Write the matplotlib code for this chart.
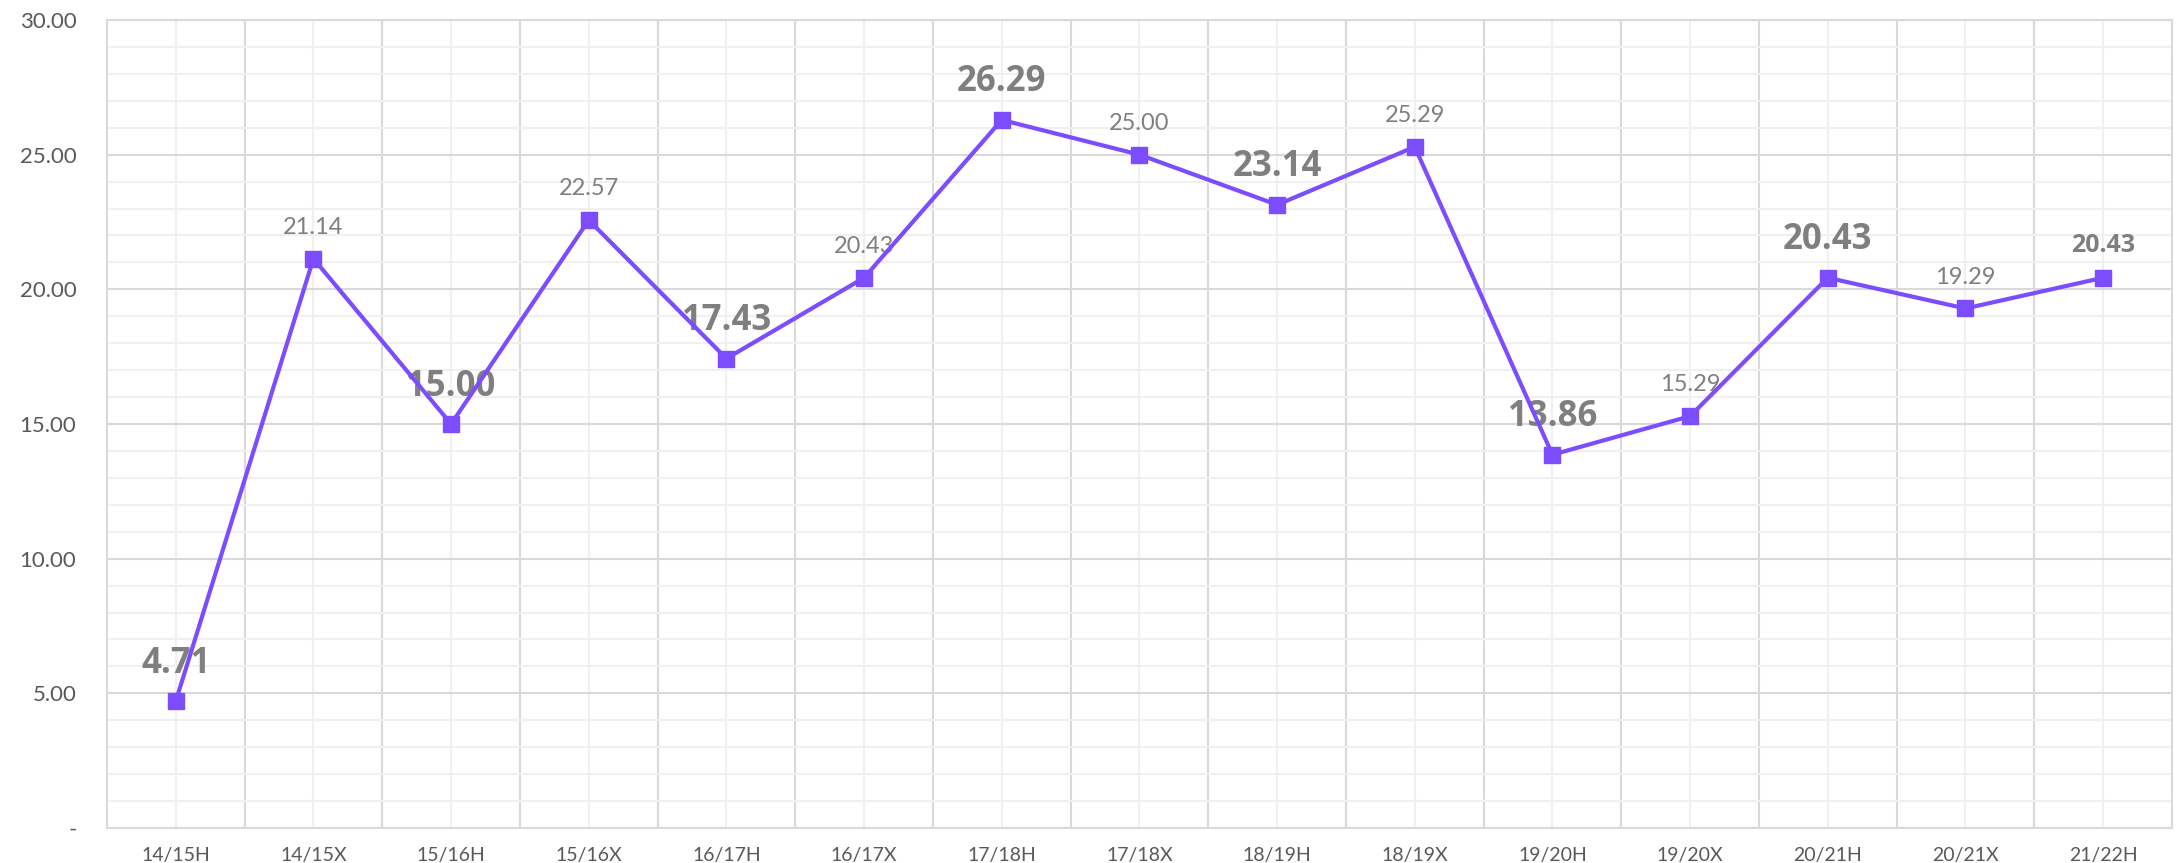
import matplotlib
matplotlib.use("Agg")
from matplotlib import pyplot as plt
from matplotlib.ticker import MultipleLocator, FixedLocator, FuncFormatter

categories = ["14/15H", "14/15X", "15/16H", "15/16X", "16/17H", "16/17X", "17/18H",
              "17/18X", "18/19H", "18/19X", "19/20H", "19/20X", "20/21H", "20/21X", "21/22H"]
values = [4.71, 21.14, 15.00, 22.57, 17.43, 20.43, 26.29, 25.00, 23.14, 25.29,
          13.86, 15.29, 20.43, 19.29, 20.43]

plt.rcParams['font.family'] = ['Lato', 'DejaVu Sans']

fig = plt.figure(figsize=(21.78, 8.63), dpi=100)
ax = fig.add_axes([0.0491, 0.0406, 0.9481, 0.9362])

x = list(range(len(categories)))
ax.plot(x, values, color='#7b4dff', linewidth=3, marker='s', markersize=12, zorder=3)

# data labels: H seasons bold, X seasons regular
for i, v in enumerate(values):
    if categories[i].endswith('H'):
        size = 18 if i == len(values) - 1 else 25
        ax.annotate('{:.2f}'.format(v), (i, v), xytext=(0, 14), textcoords='offset points',
                    ha='center', va='bottom', fontsize=size, fontweight='bold',
                    family=['Open Sans', 'DejaVu Sans'], color='#7f7f7f', zorder=2)
    else:
        ax.annotate('{:.2f}'.format(v), (i, v), xytext=(0, 15), textcoords='offset points',
                    ha='center', va='bottom', fontsize=17, color='#7f7f7f', zorder=2)

ax.set_xlim(-0.5, len(categories) - 0.5)
ax.set_ylim(0, 30)

ax.set_xticks(x)
ax.set_xticklabels(categories, fontsize=14, color='#595959')
ax.xaxis.set_minor_locator(FixedLocator([i + 0.5 for i in x[:-1]]))
ax.yaxis.set_major_locator(MultipleLocator(5))
ax.yaxis.set_minor_locator(MultipleLocator(1))
ax.yaxis.set_major_formatter(FuncFormatter(lambda v, p: '-' if v == 0 else '{:.2f}'.format(v)))
ax.tick_params(axis='y', labelsize=16, labelcolor='#595959', length=0, pad=22)
ax.tick_params(axis='x', length=0, pad=14)
ax.tick_params(which='minor', length=0)

# horizontal grid: major every 5, minor every 1
ax.grid(axis='y', which='major', color='#d9d9d9', linewidth=1.5)
ax.grid(axis='y', which='minor', color='#f0f0f0', linewidth=1.5)
# vertical grid: darker at category boundaries, light at centres
ax.grid(axis='x', which='minor', color='#d9d9d9', linewidth=1.5)
ax.grid(axis='x', which='major', color='#f0f0f0', linewidth=1.5)
ax.set_axisbelow(True)

for s in ax.spines.values():
    s.set_color('#d9d9d9')
    s.set_linewidth(1.5)

plt.savefig('out.png', dpi=100)
